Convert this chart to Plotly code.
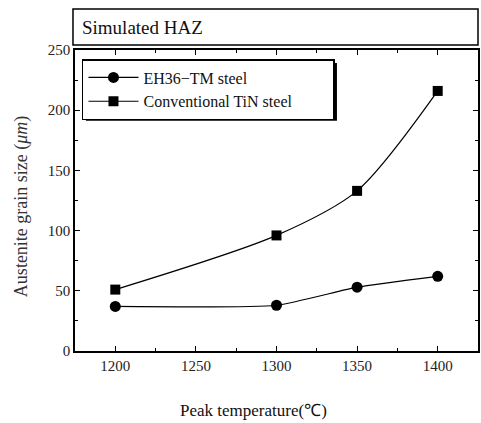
import plotly.graph_objects as go

temps = [1200, 1300, 1350, 1400]
eh36 = [37, 38, 53, 62]
tin = [51, 96, 133, 216]
series_names = ["EH36\u2212TM steel", "Conventional TiN steel"]
x_ticks = [1200, 1250, 1300, 1350, 1400]
y_ticks = [0, 50, 100, 150, 200, 250]

FONT = "Liberation Serif"
PAD = "\u00a0" * 9
fig = go.Figure()
fig.add_trace(go.Scatter(x=temps, y=eh36, mode="lines+markers", name=series_names[0],
                         line=dict(color="black", width=1.2, shape="spline", smoothing=0.5),
                         marker=dict(symbol="circle", size=11, color="black")))
fig.add_trace(go.Scatter(x=temps, y=tin, mode="lines+markers", name=series_names[1] + PAD,
                         line=dict(color="black", width=1.2, shape="spline", smoothing=0.8),
                         marker=dict(symbol="square", size=10, color="black")))

axis_common = dict(showline=True, linecolor="black", linewidth=1.5, mirror="ticks",
                   ticks="inside", ticklen=5, tickcolor="black", showgrid=False, zeroline=False,
                   tickfont=dict(family=FONT, size=15, color="#222"),
                   minor=dict(ticks="inside", ticklen=3, tickcolor="black"))
fig.update_xaxes(range=[1175, 1425], tickvals=x_ticks, dtick=50, **axis_common)
fig.update_yaxes(range=[0, 250], tickvals=y_ticks, dtick=50, **axis_common)
fig.update_xaxes(minor=dict(dtick=25, tick0=1175))
fig.update_yaxes(minor=dict(dtick=25, tick0=0))

fig.update_layout(
    width=481, height=423,
    margin=dict(l=75, r=1, t=50, b=72),
    paper_bgcolor="white", plot_bgcolor="white",
    showlegend=True,
    legend=dict(x=0.0173, y=0.970, xanchor="left", yanchor="top",
                bgcolor="white", bordercolor="black", borderwidth=1.5,
                font=dict(family=FONT, size=16, color="#111"),
                tracegroupgap=0, itemwidth=50),
)
# legend drop shadow (drawn beneath the legend box)
fig.add_shape(type="rect", xref="paper", yref="paper", x0=0.027, x1=0.650, y0=0.765, y1=0.957,
              line=dict(width=0), fillcolor="black", layer="above")
# axis titles
fig.add_annotation(xref="paper", yref="paper", x=0.442, y=-0.199, xanchor="center", yanchor="middle",
                   text="Peak temperature(\u2103)", showarrow=False, font=dict(family=FONT, size=17, color="#111"))
fig.add_annotation(xref="paper", yref="paper", x=-0.131, y=0.482, xanchor="center", yanchor="middle",
                   textangle=-90, text="Austenite grain size (<i>\u03bcm</i>)", showarrow=False,
                   font=dict(family=FONT, size=18, color="#333"))
# title box
fig.add_shape(type="rect", xref="paper", yref="paper", x0=-0.005, x1=1.0, y0=1.017, y1=1.136,
              line=dict(color="black", width=1.5), fillcolor="white")
fig.add_annotation(xref="paper", yref="paper", x=0.012, y=1.076, xanchor="left", yanchor="middle",
                   text="Simulated HAZ", showarrow=False, font=dict(family=FONT, size=19, color="#111"))

fig.write_html("out.html")
